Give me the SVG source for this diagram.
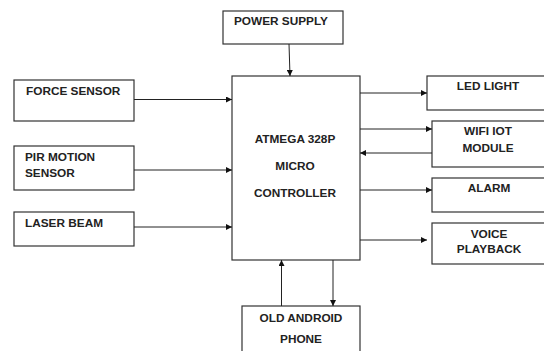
<svg xmlns="http://www.w3.org/2000/svg" width="544" height="351" viewBox="0 0 544 351">
<defs>
<style>
.box{fill:#fff;stroke:#333;stroke-width:1.2}
.t{font-family:"Liberation Sans",Arial,sans-serif;font-size:11.8px;font-weight:bold;fill:#222}
.c{text-anchor:middle}
.ln{stroke:#222;stroke-width:1;fill:none;marker-end:url(#ah)}
</style>
<marker id="ah" viewBox="0 0 10 10" refX="10" refY="5" markerWidth="7" markerHeight="6" markerUnits="userSpaceOnUse" orient="auto">
<path d="M0,0 L10,5 L0,10 z" fill="#111"/>
</marker>
</defs>
<rect width="544" height="351" fill="#fff"/>
<g id="power">
<rect class="box" x="223" y="11" width="120" height="33"/>
<text class="t" x="234" y="25">POWER SUPPLY</text>
</g>
<g id="mcu">
<rect class="box" x="232" y="76" width="128" height="184"/>
<text class="t c" x="295" y="143">ATMEGA 328P</text>
<text class="t c" x="295" y="170">MICRO</text>
<text class="t c" x="295" y="197">CONTROLLER</text>
</g>
<g id="force">
<rect class="box" x="14" y="80" width="120" height="41"/>
<text class="t" x="26" y="95">FORCE SENSOR</text>
</g>
<g id="pir">
<rect class="box" x="14" y="146" width="120" height="44"/>
<text class="t" x="25" y="161">PIR MOTION</text>
<text class="t" x="25" y="177">SENSOR</text>
</g>
<g id="laser">
<rect class="box" x="14" y="212" width="120" height="34"/>
<text class="t" x="25" y="227">LASER BEAM</text>
</g>
<g id="android">
<rect class="box" x="242" y="306" width="118" height="60"/>
<text class="t c" x="301" y="322">OLD ANDROID</text>
<text class="t c" x="301" y="343">PHONE</text>
</g>
<g id="led">
<rect class="box" x="427" y="76" width="130" height="34"/>
<text class="t c" x="488" y="90">LED LIGHT</text>
</g>
<g id="wifi">
<rect class="box" x="432" y="121" width="125" height="46"/>
<text class="t c" x="488" y="135">WIFI IOT</text>
<text class="t c" x="488" y="152">MODULE</text>
</g>
<g id="alarm">
<rect class="box" x="432" y="178" width="125" height="34"/>
<text class="t c" x="489" y="192">ALARM</text>
</g>
<g id="voice">
<rect class="box" x="432" y="223" width="125" height="41"/>
<text class="t c" x="489" y="238">VOICE</text>
<text class="t c" x="489" y="253">PLAYBACK</text>
</g>
<g id="connectors">
<line class="ln" x1="289" y1="44" x2="290" y2="76"/>
<line class="ln" x1="134" y1="99.5" x2="232" y2="99.5"/>
<line class="ln" x1="134" y1="170" x2="232" y2="170"/>
<line class="ln" x1="134" y1="227" x2="232" y2="227"/>
<line class="ln" x1="360" y1="93" x2="427" y2="93"/>
<line class="ln" x1="360" y1="129" x2="432" y2="129"/>
<line class="ln" x1="432" y1="153" x2="360" y2="153"/>
<line class="ln" x1="360" y1="190" x2="432" y2="190"/>
<line class="ln" x1="360" y1="240" x2="427" y2="240"/>
<line class="ln" x1="281.5" y1="306" x2="281.5" y2="260"/>
<line class="ln" x1="333" y1="260" x2="333" y2="306"/>
</g>
</svg>
